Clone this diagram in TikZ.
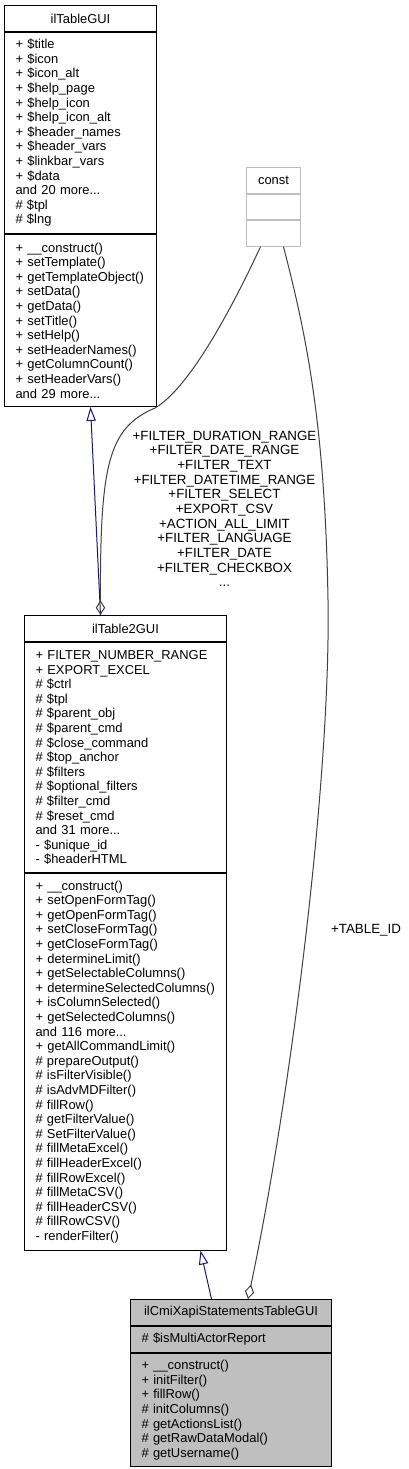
\documentclass[tikz,border=0pt]{standalone}
\usepackage{fontspec}
\setmainfont{Liberation Sans}
\usetikzlibrary{arrows.meta, positioning, calc}

\definecolor{edgegrey}{HTML}{404040}
\definecolor{inheritblue}{HTML}{191970}
\definecolor{boxgrey}{HTML}{BFBFBF}

\begin{document}
\begin{tikzpicture}[
    x=0.75pt, y=-0.75pt,
    font=\fontsize{9.7}{10.95}\selectfont,
    % one compartment of a class box
    part/.style={rectangle, draw=black, line width=0.75pt, inner xsep=8.25pt, inner ysep=0pt, align=left, anchor=north west},
    umlhead/.style={part, align=center, minimum height=19.425pt, text width=#1},
    umlbody/.style 2 args={part, minimum height=#1, text width=#2},
    inherit/.style={-{Triangle[open, length=10.5pt, width=7pt]}, draw=inheritblue, line width=0.75pt},
    collab/.style={-{Diamond[open, length=11pt, width=7pt]}, draw=edgegrey, line width=0.75pt},
    edgelabel/.style={align=center, inner sep=0pt, font=\fontsize{10}{11}\selectfont}
]

\fill[white] (0,0) rectangle (408,1469);
\useasboundingbox (0,0) rectangle (408,1469);

% =========================================================
% ilTableGUI
% =========================================================
\node[umlhead=97.5pt] (tablegui) at (4,5) {ilTableGUI};
\node[umlbody={150.825pt}{97.5pt}, below=0pt of tablegui] (tablegui-attr) {+ \$title\\+ \$icon\\+ \$icon\_alt\\+ \$help\_page\\+ \$help\_icon\\+ \$help\_icon\_alt\\+ \$header\_names\\+ \$header\_vars\\+ \$linkbar\_vars\\+ \$data\\and 20 more...\\\# \$tpl\\\# \$lng};
\node[umlbody={128.925pt}{97.5pt}, below=0pt of tablegui-attr] (tablegui-ops) {+ \_\_construct()\\+ setTemplate()\\+ getTemplateObject()\\+ setData()\\+ getData()\\+ setTitle()\\+ setHelp()\\+ setHeaderNames()\\+ getColumnCount()\\+ setHeaderVars()\\and 29 more...};

% =========================================================
% const
% =========================================================
\node[umlhead=24pt, draw=boxgrey, minimum height=19.2pt] (const) at (246,167) {const};
\node[umlbody={19.2pt}{24pt}, draw=boxgrey, below=0pt of const] (const-attr) {};
\node[umlbody={19.2pt}{24pt}, draw=boxgrey, below=0pt of const-attr] (const-ops) {};

% =========================================================
% ilTable2GUI
% =========================================================
\node[umlhead=135pt] (table2gui) at (24,615) {ilTable2GUI};
\node[umlbody={172.725pt}{135pt}, below=0pt of table2gui] (table2gui-attr) {+ FILTER\_NUMBER\_RANGE\\+ EXPORT\_EXCEL\\\# \$ctrl\\\# \$tpl\\\# \$parent\_obj\\\# \$parent\_cmd\\\# \$close\_command\\\# \$top\_anchor\\\# \$filters\\\# \$optional\_filters\\\# \$filter\_cmd\\\# \$reset\_cmd\\and 31 more...\\- \$unique\_id\\- \$headerHTML};
\node[umlbody={282.225pt}{135pt}, below=0pt of table2gui-attr] (table2gui-ops) {+ \_\_construct()\\+ setOpenFormTag()\\+ getOpenFormTag()\\+ setCloseFormTag()\\+ getCloseFormTag()\\+ determineLimit()\\+ getSelectableColumns()\\+ determineSelectedColumns()\\+ isColumnSelected()\\+ getSelectedColumns()\\and 116 more...\\+ getAllCommandLimit()\\\# prepareOutput()\\\# isFilterVisible()\\\# isAdvMDFilter()\\\# fillRow()\\\# getFilterValue()\\\# SetFilterValue()\\\# fillMetaExcel()\\\# fillHeaderExcel()\\\# fillRowExcel()\\\# fillMetaCSV()\\\# fillHeaderCSV()\\\# fillRowCSV()\\- renderFilter()};

% =========================================================
% ilCmiXapiStatementsTableGUI (grey, the documented class)
% =========================================================
\node[umlhead=134.25pt, fill=boxgrey] (cmixapi) at (130,1299) {ilCmiXapiStatementsTableGUI};
\node[umlbody={19.425pt}{134.25pt}, fill=boxgrey, below=0pt of cmixapi] (cmixapi-attr) {\# \$isMultiActorReport};
\node[umlbody={85.125pt}{134.25pt}, fill=boxgrey, below=0pt of cmixapi-attr] (cmixapi-ops) {+ \_\_construct()\\+ initFilter()\\+ fillRow()\\\# initColumns()\\\# getActionsList()\\\# getRawDataModal()\\\# getUsername()};

% =========================================================
% EDGES
% =========================================================
\draw[inherit] ($(table2gui.north)+(-25,0)$) -- ($(tablegui-ops.south)+(10,0)$);
\draw[inherit] ($(cmixapi.north)+(-19.5,0)$) -- ($(table2gui-ops.south)+(75,0)$);

\draw[collab] ($(const-ops.south)+(-13,0)$) .. controls (245,280) and (195,385) .. (155,408) .. controls (108,428) and (100,465) .. ($(table2gui.north)+(-25,0)$);
\draw[collab] ($(const-ops.south)+(10,0)$) .. controls (305,330) and (325,420) .. (328,600) .. controls (331,780) and (290,1100) .. ($(cmixapi.north)+(17,0)$);

% edge labels
\node[edgelabel] (constlabel) at (224.5,509) {+FILTER\_DURATION\_RANGE\\+FILTER\_DATE\_RANGE\\+FILTER\_TEXT\\+FILTER\_DATETIME\_RANGE\\+FILTER\_SELECT\\+EXPORT\_CSV\\+ACTION\_ALL\_LIMIT\\+FILTER\_LANGUAGE\\+FILTER\_DATE\\+FILTER\_CHECKBOX\\...};
\node[edgelabel] (tableidlabel) at (366,930) {+TABLE\_ID};

\end{tikzpicture}
\end{document}
